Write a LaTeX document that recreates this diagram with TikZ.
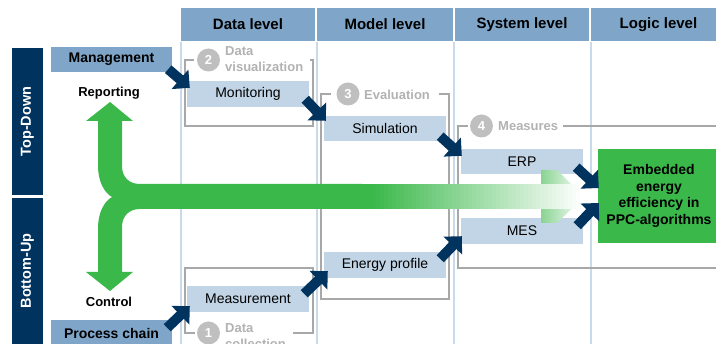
\documentclass[tikz,border=0pt]{standalone}
\usepackage{fontspec}
\setmainfont{Liberation Sans}
\usetikzlibrary{arrows.meta}
\definecolor{navy}{HTML}{00335E}
\definecolor{hdrblue}{HTML}{7FA6C9}
\definecolor{boxblue}{HTML}{C2D5E6}
\definecolor{lineblue}{HTML}{C9DAEB}
\definecolor{ppcgreen}{HTML}{3AB84A}
\definecolor{stepgray}{HTML}{A8A8A8}
\definecolor{stepfill}{HTML}{BFBFBF}
\definecolor{steplabel}{HTML}{B2B2B2}

\begin{document}
\begin{tikzpicture}[x=1pt, y=-1pt,
	every node/.style={inner sep=0pt, align=center},
	header/.style={fill=hdrblue, minimum width=134pt, minimum height=33pt, font=\fontsize{15}{17}\selectfont\bfseries},
	task/.style={fill=boxblue, minimum width=122pt, minimum height=26pt, font=\fontsize{14}{16}\selectfont},
	chain/.style={fill=hdrblue, minimum width=121pt, minimum height=26pt, font=\fontsize{14}{16}\selectfont\bfseries},
	side/.style={fill=navy, text=white, rotate=90, minimum height=31pt, font=\fontsize{14.5}{17}\selectfont\bfseries},
	flowtext/.style={font=\fontsize{13}{15}\selectfont\bfseries},
	stepno/.style={circle, fill=stepfill, text=white, minimum size=23pt, font=\fontsize{13}{15}\selectfont\bfseries},
	steptext/.style={anchor=west, align=left, text=steplabel, font=\fontsize{13}{15.5}\selectfont\bfseries},
	bracket/.style={draw=stepgray, line width=1.5pt},
	sep/.style={draw=lineblue, line width=2pt},
	push/.style={navy, line width=10pt, -{Triangle[length=13pt, width=25pt]}}]
		\useasboundingbox (0,0) rectangle (716,344);
		\clip (0,0) rectangle (716,344);

		% columns
		\foreach \x in {180.5,316.5,453.5,590.5}
			\draw[sep] (\x,42) -- (\x,344);
		\path (248,24.5) node[header] (hdr1) {Data level}
		(385,24.5) node[header, minimum width=136pt] (hdr2) {Model level}
		(522,24.5) node[header] (hdr3) {System level}
		(658.5,24.5) node[header, minimum width=135pt] (hdr4) {Logic level};

		% left side
		\path (27.5,121.5) node[side, minimum width=147pt] (td) {Top-Down}
		(27.5,271) node[side, minimum width=146pt] (bu) {Bottom-Up}
		(111.5,59.5) node[chain, minimum height=25pt] (mgmt) {Management}
		(111.5,333.5) node[chain, minimum height=27pt] (pc) {Process chain}
		(109,93) node[flowtext] (rep) {Reporting}
		(109,302) node[flowtext] (ctrl) {Control};

		% steps
		\path (208.5,60) node[stepno] (n2) {2}
		(225,59) node[steptext] (l2) {Data\\visualization}
		(348,94) node[stepno] (n3) {3}
		(364,95) node[steptext] (l3) {Evaluation}
		(481.5,126) node[stepno] (n4) {4}
		(498,126) node[steptext] (l4) {Measures}
		(208.5,333) node[stepno] (n1) {1}
		(225,336) node[steptext] (l1) {Data\\collection};

		\draw[bracket] (194,60) -- (185,60) -- (185,126) -- (313,126) -- (313,60) -- (310,60);
		\draw[bracket] (331,94) -- (321,94) -- (321,299) -- (449,299) -- (449,94) -- (439,94);
		\draw[bracket] (468,126) -- (458,126) -- (458,268) -- (716,268);
		\draw[bracket] (563,126) -- (716,126);
		\draw[bracket] (195,333) -- (185,333) -- (185,268) -- (313,268) -- (313,333) -- (293,333);

		% boxes
		\path (248,94) node[task] (mon) {Monitoring}
		(385,128.5) node[task, minimum height=25pt] (sim) {Simulation}
		(522,161.5) node[task, minimum height=25pt] (erp) {ERP}
		(522,231) node[task] (mes) {MES}
		(385,265) node[task] (ep) {Energy profile}
		(248,299) node[task] (meas) {Measurement}
		(659,196) node[fill=ppcgreen, minimum width=122pt, minimum height=94pt, font=\fontsize{14}{16.7}\selectfont\bfseries] (emb) {Embedded\\energy\\efficiency in\\PPC-algorithms};

		% green flow
		\fill[ppcgreen] (110,102) -- (133,121) -- (122,121) -- (122,166)
			.. controls (122,177) and (129,184) .. (140,184) -- (362,184) -- (362,209) -- (140,209)
			.. controls (129,209) and (122,216) .. (122,227) -- (122,272) -- (133,272) -- (110,291)
			-- (86,272) -- (98,272) -- (98,229) .. controls (98,211) and (105,201) .. (112,197)
			.. controls (105,193) and (98,183) .. (98,165) -- (98,121) -- (86,121) -- cycle;
		\shade[left color=ppcgreen!60!white, right color=white] (541,170) -- (557,170) -- (584,197) -- (557,223) -- (541,223) -- cycle;
		\foreach \i in {0,...,58} {
			\pgfmathsetmacro\p{max(0,min(100,100-(4*\i-10)/2.1))}
			\fill[ppcgreen!\p!white] (360+4*\i,184) rectangle (364.5+4*\i,209);
		}

		% arrows
		\draw[push] ([shift={(-4,-3)}]mgmt.south east) -- ([shift={(3,7)}]mon.north west);
		\draw[push] ([shift={(-4,-8)}]mon.south east) -- ([shift={(2,5)}]sim.north west);
		\draw[push] ([shift={(-6,-5)}]sim.south east) -- ([shift={(1,7)}]erp.north west);
		\draw[push] ([shift={(-7,-7)}]erp.south east) -- ([shift={(1,-8)}]emb.west);
		\draw[push] ([shift={(-6,8)}]mes.north east) -- ([shift={(1,7)}]emb.west);
		\draw[push] ([shift={(-5,8)}]pc.north east) -- ([shift={(3,-6)}]meas.south west);
		\draw[push] ([shift={(-5,8)}]meas.north east) -- ([shift={(4,-7)}]ep.south west);
		\draw[push] ([shift={(-6,7)}]ep.north east) -- ([shift={(1,-8)}]mes.south west);
	\end{tikzpicture}
\end{document}
